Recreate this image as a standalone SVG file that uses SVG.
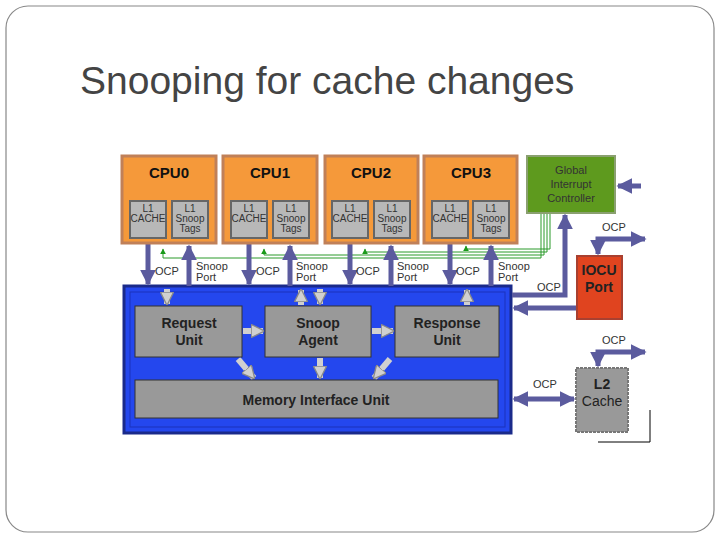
<svg xmlns="http://www.w3.org/2000/svg" width="720" height="540" viewBox="0 0 720 540">
<defs>
<marker id="pa" viewBox="0 0 10 10" refX="9" refY="5" markerWidth="3.2" markerHeight="3.2" orient="auto-start-reverse"><path d="M0,0L10,5L0,10z" fill="#5b5b9e"/></marker>
<marker id="ga" viewBox="0 0 10 10" refX="9" refY="5" markerWidth="6" markerHeight="6" orient="auto"><path d="M0,0L10,5L0,10z" fill="#1a9a1a"/></marker>
<marker id="wa" viewBox="0 0 10 10" refX="9" refY="5" markerWidth="2.2" markerHeight="2.2" orient="auto"><path d="M0,0L10,5L0,10z" fill="#d0d0d0" stroke="#888" stroke-width="1"/></marker>
</defs>
<style>
.cpu{fill:#f5993a;stroke:#c08058;stroke-width:3}
.sub{fill:#b8b8b8;stroke:#666;stroke-width:2}
.st{font-family:"Liberation Sans",Arial,sans-serif;font-size:10px;fill:#333;text-anchor:middle}
.ct{font-family:"Liberation Sans",Arial,sans-serif;font-size:15px;font-weight:bold;fill:#111;text-anchor:middle}
.lb{font-family:"Liberation Sans",Arial,sans-serif;font-size:11px;fill:#333}
.unit{fill:#999;stroke:#333;stroke-width:1}
.ut{font-family:"Liberation Sans",Arial,sans-serif;font-size:14px;font-weight:bold;fill:#222;text-anchor:middle}
.p{stroke:#5b5b9e;stroke-width:5;fill:none}
.g{stroke:#2a9a2a;stroke-width:1;fill:none}
.w{stroke:#d0d0d0;stroke-width:6;fill:none}
</style>
<rect x="6" y="6" width="708" height="526" rx="22" fill="#fff" stroke="#888" stroke-width="1.2"/>
<text x="80" y="94" font-family="'Liberation Sans',Arial,sans-serif" font-size="39" fill="#444">Snooping for cache changes</text>

<g id="blue"><rect x="124" y="286" width="387" height="147" fill="#2447ee" stroke="#1a2a8a" stroke-width="3"/><rect x="130" y="292" width="375" height="135" fill="none" stroke="#1a33bb" stroke-width="1"/></g>

<g id="connectors">
<g class="g">
<path d="M541,213V258H163V249" marker-end="url(#ga)"/>
<path d="M544,213V255H264V249" marker-end="url(#ga)"/>
<path d="M547,213V252H365V249" marker-end="url(#ga)"/>
<path d="M550,213V249H466V246" marker-end="url(#ga)"/>
</g>
<path class="p" d="M148,244V284" marker-end="url(#pa)"/><path class="p" d="M189,286V246" marker-end="url(#pa)"/>
<path class="p" d="M249,244V284" marker-end="url(#pa)"/><path class="p" d="M290,286V246" marker-end="url(#pa)"/>
<path class="p" d="M350,244V284" marker-end="url(#pa)"/><path class="p" d="M391,286V246" marker-end="url(#pa)"/>
<path class="p" d="M450,244V284" marker-end="url(#pa)"/><path class="p" d="M491,286V246" marker-end="url(#pa)"/>
<path class="p" d="M512,295H565V215" marker-end="url(#pa)"/>
<path class="p" d="M641,186H618" marker-end="url(#pa)"/>
<path class="p" d="M576,308H514" marker-end="url(#pa)"/>
<path class="p" d="M598,254V239H645" marker-end="url(#pa)" marker-start="url(#pa)"/>
<path class="p" d="M598,366V352H645" marker-end="url(#pa)" marker-start="url(#pa)"/>
<path class="p" d="M514,399H574" marker-end="url(#pa)" marker-start="url(#pa)"/>
<path class="w" d="M167,289V304" marker-end="url(#wa)"/>
<path class="w" d="M301,305V290" marker-end="url(#wa)"/>
<path class="w" d="M320,289V304" marker-end="url(#wa)"/>
<path class="w" d="M467,305V290" marker-end="url(#wa)"/>
<path class="w" d="M243,331H263" marker-end="url(#wa)"/>
<path class="w" d="M372,331H393" marker-end="url(#wa)"/>
<path class="w" d="M238,359L254,378" marker-end="url(#wa)"/>
<path class="w" d="M320,358V378" marker-end="url(#wa)"/>
<path class="w" d="M390,359L374,378" marker-end="url(#wa)"/>
</g>
<g class="lb">
<text x="155" y="275">OCP</text><text x="196" y="270">Snoop</text><text x="196" y="281">Port</text>
<text x="256" y="275">OCP</text><text x="296" y="270">Snoop</text><text x="296" y="281">Port</text>
<text x="356" y="275">OCP</text><text x="397" y="270">Snoop</text><text x="397" y="281">Port</text>
<text x="456" y="275">OCP</text><text x="498" y="270">Snoop</text><text x="498" y="281">Port</text>
<text x="537" y="291">OCP</text><text x="602" y="231">OCP</text><text x="602" y="344">OCP</text><text x="533" y="388">OCP</text>
</g>

<g id="cpu0"><rect class="cpu" x="122" y="156" width="94" height="87"/><text class="ct" x="169" y="178">CPU0</text>
<rect class="sub" x="130" y="201" width="36" height="37"/><text class="st" x="148" y="212">L1</text><text class="st" x="148" y="222">CACHE</text>
<rect class="sub" x="172" y="201" width="36" height="37"/><text class="st" x="190" y="212">L1</text><text class="st" x="190" y="222">Snoop</text><text class="st" x="190" y="232">Tags</text></g>
<g id="cpu1"><rect class="cpu" x="223" y="156" width="94" height="87"/><text class="ct" x="270" y="178">CPU1</text>
<rect class="sub" x="231" y="201" width="36" height="37"/><text class="st" x="249" y="212">L1</text><text class="st" x="249" y="222">CACHE</text>
<rect class="sub" x="273" y="201" width="36" height="37"/><text class="st" x="291" y="212">L1</text><text class="st" x="291" y="222">Snoop</text><text class="st" x="291" y="232">Tags</text></g>
<g id="cpu2"><rect class="cpu" x="325" y="156" width="93" height="87"/><text class="ct" x="371" y="178">CPU2</text>
<rect class="sub" x="332" y="201" width="36" height="37"/><text class="st" x="350" y="212">L1</text><text class="st" x="350" y="222">CACHE</text>
<rect class="sub" x="374" y="201" width="36" height="37"/><text class="st" x="392" y="212">L1</text><text class="st" x="392" y="222">Snoop</text><text class="st" x="392" y="232">Tags</text></g>
<g id="cpu3"><rect class="cpu" x="424" y="156" width="93" height="87"/><text class="ct" x="471" y="178">CPU3</text>
<rect class="sub" x="432" y="201" width="36" height="37"/><text class="st" x="450" y="212">L1</text><text class="st" x="450" y="222">CACHE</text>
<rect class="sub" x="473" y="201" width="36" height="37"/><text class="st" x="491" y="212">L1</text><text class="st" x="491" y="222">Snoop</text><text class="st" x="491" y="232">Tags</text></g>
<g id="gic"><rect x="527" y="156" width="88" height="57" fill="#5e9a1e" stroke="#8aa070" stroke-width="2"/>
<text class="lb" x="571" y="174" text-anchor="middle" fill="#111">Global</text><text class="lb" x="571" y="188" text-anchor="middle">Interrupt</text><text class="lb" x="571" y="202" text-anchor="middle">Controller</text></g>
<g id="iocu"><rect x="577" y="256" width="45" height="63" fill="#e0441f" stroke="#a84030" stroke-width="2"/>
<text class="ut" x="599" y="275">IOCU</text><text class="ut" x="599" y="292">Port</text></g>
<g id="l2"><rect x="576" y="368" width="52" height="64" fill="#999" stroke="#777" stroke-width="2" stroke-dasharray="3,1"/>
<text class="ut" x="602" y="389">L2</text><text x="602" y="406" font-family="'Liberation Sans',Arial,sans-serif" font-size="14" fill="#222" text-anchor="middle">Cache</text></g>
<g id="req"><rect class="unit" x="135" y="306" width="107" height="51"/><text class="ut" x="189" y="328">Request</text><text class="ut" x="189" y="345">Unit</text></g>
<g id="snoop"><rect class="unit" x="265" y="306" width="106" height="51"/><text class="ut" x="318" y="328">Snoop</text><text class="ut" x="318" y="345">Agent</text></g>
<g id="resp"><rect class="unit" x="395" y="306" width="104" height="51"/><text class="ut" x="447" y="328">Response</text><text class="ut" x="447" y="345">Unit</text></g>
<g id="miu"><rect class="unit" x="135" y="380" width="363" height="38"/><text class="ut" x="316" y="405">Memory Interface Unit</text></g>
<path d="M650,410V442H598" fill="none" stroke="#000" stroke-width="1"/>
</svg>
